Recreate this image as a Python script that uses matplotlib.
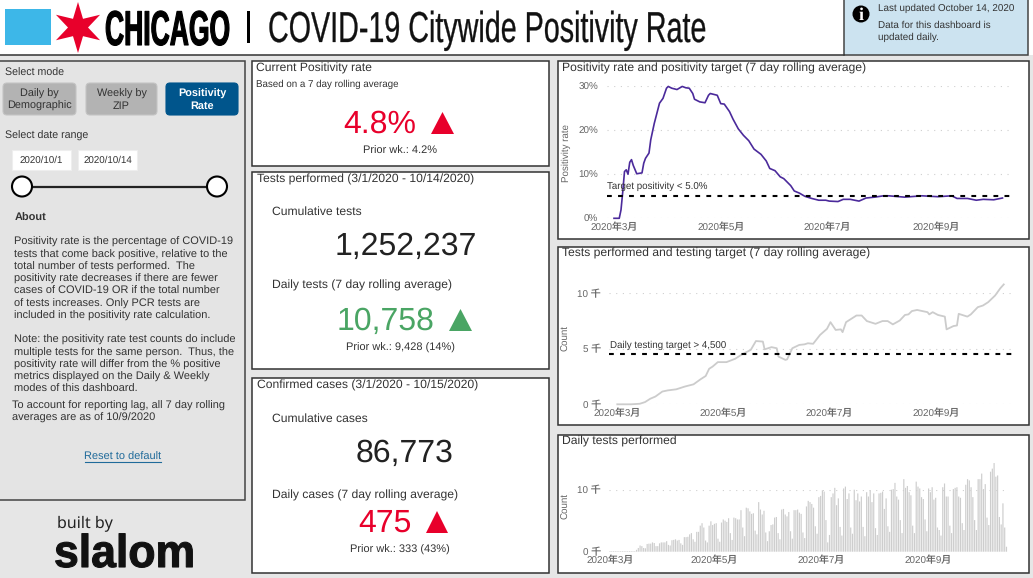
import numpy as np
import matplotlib
matplotlib.use("Agg")
import matplotlib.pyplot as plt
from matplotlib.patches import Rectangle, FancyBboxPatch, Circle, Polygon
from matplotlib.patheffects import AbstractPathEffect
from matplotlib.transforms import Affine2D

plt.rcParams["font.family"] = ["Liberation Sans", "Noto Sans CJK SC", "DejaVu Sans"]
plt.rcParams["text.hinting"] = "no_hinting"

W, H = 1033, 578

# ── Data (days are counted from 2020/3/1) ─────────────────────────────────────
pos_days = [0, 3, 4, 5, 6, 7, 8, 9, 10, 11, 13, 16, 17, 18, 20, 21, 23, 26, 28, 30, 31, 33, 36,
            39, 41, 43, 45, 46, 49, 52, 54, 55, 59, 61, 63, 66, 68, 71, 74, 77, 80, 84, 87, 89,
            92, 95, 97, 101, 103, 106, 109, 113, 117, 121, 123, 128, 131, 135, 140, 144, 149,
            154, 157, 166, 176, 185, 193, 196, 202, 207, 211, 217, 222]
pos_rate = [0, 0, 1.9, 6, 10.6, 11, 10, 12.7, 13.3, 12, 10.1, 10.3, 12.5, 13.6, 14.8, 17.8, 21.5,
            26.1, 27.2, 29.5, 29.9, 29.5, 29.2, 29.9, 29.6, 29.5, 28.3, 27, 26.4, 26.2, 27.9, 28.3,
            27.9, 26, 25.9, 24.2, 22.5, 20.3, 18.8, 17.6, 15.7, 14.5, 13, 11.3, 10.8, 9.4, 9, 7.4,
            6.2, 5.7, 5, 4.5, 4.1, 4.1, 3.9, 3.8, 4.3, 4.3, 3.9, 4.6, 4.8, 5.1, 5.1, 4.8, 5.1, 4.9,
            5.1, 4.5, 4.5, 4.1, 4.3, 4.2, 4.6]
pos_target = 5.0

test_days = [0, 8, 13, 16, 19, 22, 26, 29, 34, 39, 44, 48, 51, 53, 55, 58, 60, 63, 68, 72, 77, 80,
             84, 85, 89, 92, 93, 97, 98, 101, 105, 108, 110, 113, 117, 121, 123, 126, 129, 130,
             132, 135, 138, 141, 144, 149, 153, 156, 159, 163, 166, 168, 170, 173, 179, 180, 182,
             185, 189, 190, 194, 196, 197, 202, 204, 208, 211, 214, 216, 218, 221, 223]
test_avg = [0, 0, 0.05, 0.2, 0.5, 0.7, 1.15, 1.25, 1.35, 1.6, 1.8, 2.25, 2.55, 3.2, 3.4, 3.8, 3.8,
            3.8, 4.1, 4.5, 4.9, 5.7, 5.65, 4.95, 5.15, 5.05, 4.3, 4.0, 4.05, 5.05, 5.35, 5.4, 5.5,
            5.45, 6.25, 6.8, 7.4, 6.7, 6.75, 6.5, 7.4, 7.7, 8.0, 8.0, 7.5, 7.25, 7.5, 7.5, 7.2,
            7.55, 8.05, 8.1, 8.4, 8.5, 8.3, 8.1, 8.3, 8.05, 7.9, 6.75, 7.05, 7.1, 8.15, 7.9, 8.1,
            8.75, 8.9, 9.2, 9.5, 9.8, 10.45, 10.8]
test_target = 4.5

daily_tests = [0.1, 0.1, 0.1, 0.1, 0.1, 0.1, 0.1, 0.1, 0.1, 0.1, 0.1, 0.1, 0.1, 0.1, 0.1,
               0.3, 0.6, 1.0, 0.9, 0.6, 0.55, 1.25, 1.3, 1.3, 1.5, 1.4, 0.9, 0.9, 1.35, 1.5,
               1.5, 1.5, 1.7, 1.1, 1.0, 1.85, 1.9, 2.0, 1.8, 1.9, 1.35, 1.1, 2.35, 2.35, 2.4,
               2.8, 3.0, 2.0, 1.6, 3.2, 3.2, 4.2, 4.6, 3.9, 1.8, 1.5, 4.2, 4.9, 4.3, 4.5,
               4.6, 2.1, 1.6, 4.7, 5.2, 5.0, 4.8, 5.4, 3.0, 1.9, 5.5, 5.4, 5.2, 5.2, 6.7,
               3.9, 2.5, 7.1, 7.0, 6.5, 6.1, 6.2, 3.4, 2.8, 8.0, 6.8, 6.0, 6.6, 3.1, 1.7,
               3.3, 4.3, 4.4, 5.5, 5.6, 3.0, 2.0, 6.8, 6.9, 6.0, 5.7, 6.4, 3.3, 2.1, 6.7,
               6.7, 6.8, 6.3, 6.1, 3.1, 2.2, 7.3, 8.2, 8.0, 7.7, 7.1, 4.1, 2.9, 8.8, 9.0,
               9.9, 9.7, 5.1, 1.5, 2.7, 8.8, 9.4, 10.3, 7.5, 8.6, 4.0, 2.6, 10.2, 10.5, 8.5,
               9.4, 3.9, 2.9, 10.0, 8.3, 9.4, 8.1, 8.9, 4.0, 2.5, 9.6, 8.9, 9.9, 8.0, 9.4,
               3.8, 2.7, 9.4, 9.5, 9.7, 6.9, 8.6, 4.1, 3.2, 10.0, 10.1, 11.1, 8.9, 8.4, 5.1,
               3.0, 11.7, 10.3, 10.6, 9.6, 9.1, 4.2, 3.0, 11.3, 10.5, 10.2, 8.8, 8.5, 5.2,
               3.3, 10.2, 9.6, 10.4, 8.4, 8.7, 3.9, 3.5, 2.6, 10.4, 11.0, 8.9, 8.9, 4.2, 3.0,
               10.1, 10.3, 10.4, 8.9, 8.7, 4.6, 3.5, 10.8, 11.7, 11.5, 10.4, 8.8, 5.1, 3.5,
               11.7, 11.7, 12.6, 10.1, 10.9, 5.5, 4.3, 12.9, 13.4, 14.3, 12.1, 12.3, 5.6, 4.4,
               7.8, 3.9, 0.8]

month_labels = ["2020年3月", "2020年5月", "2020年7月", "2020年9月"]
month_ticks = [0, 61, 122, 184]
bar_month_ticks = [0, 59, 119, 180]

about_lines = ["Positivity rate is the percentage of COVID-19",
               "tests that come back positive, relative to the",
               "total number of tests performed.  The",
               "positivity rate decreases if there are fewer",
               "cases of COVID-19 OR if the total number",
               "of tests increases. Only PCR tests are",
               "included in the positivity rate calculation."]
note_lines = ["Note: the positivity rate test counts do include",
              "multiple tests for the same person.  Thus, the",
              "positivity rate will differ from the % positive",
              "metrics displayed on the Daily & Weekly",
              "modes of this dashboard."]
about_y = [241, 254, 266, 278, 290, 303, 315]
note_y = [339, 352, 364, 376, 388]

RED = "#e8002b"
GREEN = "#4aa564"
DARK = "#333333"
GRAY = "#666666"
BG = "#e6e6e6"


class StretchY(AbstractPathEffect):
    # the logo fonts are condensed and none is installed, so small glyphs get stretched up
    def __init__(self, sy, y0, lw=0.0):
        super().__init__()
        self.sy, self.y0, self.lw = sy, y0, lw

    def draw_path(self, renderer, gc, tpath, affine, rgbFace=None):
        tr = affine + Affine2D().translate(0, -self.y0).scale(1, self.sy).translate(0, self.y0)
        gc0 = renderer.new_gc()
        gc0.copy_properties(gc)
        if self.lw:
            gc0.set_linewidth(self.lw)
            gc0.set_foreground(rgbFace)
        renderer.draw_path(gc0, tpath, tr, rgbFace)
        gc0.restore()


fig = plt.figure(figsize=(W / 100, H / 100), dpi=100, facecolor=BG)
base = fig.add_axes([0, 0, 1, 1])
base.set_xlim(0, W)
base.set_ylim(H, 0)
base.axis("off")


def box(x0, y0, x1, y1, fc="white", ec=DARK, lw=1.1):
    base.add_patch(Rectangle((x0, y0), x1 - x0, y1 - y0, fc=fc, ec=ec, lw=lw))


def txt(x, y, s, size=8.75, color=DARK, ha="left", **kw):
    return base.text(x, y + size * 0.1, s, fontsize=size, color=color, ha=ha, va="center", **kw)


def logo_text(x0, x1, y_base, cap_h, s, color, lw=0.0, **kw):
    # font size from the wanted width, vertical stretch from the wanted cap height
    t = base.text(x0, y_base, s, fontsize=30, color=color, va="baseline", **kw)
    w = t.get_window_extent(fig.canvas.get_renderer()).width
    size = 30 * (x1 - x0) / w
    t.set_fontsize(size)
    t.set_path_effects([StretchY(cap_h / (0.716 * size * 100 / 72), H - y_base, lw)])


def triangle(x0, x1, y0, y1, color):
    base.add_patch(Polygon([(x0, y1), (x1, y1), ((x0 + x1) / 2, y0)], fc=color, ec="none"))


# ── Header ────────────────────────────────────────────────────────────────────
box(-2, -2, W + 2, 55, fc="white", ec="none", lw=0)
base.plot([0, 844], [55, 55], color=DARK, lw=1.1)
base.add_patch(Rectangle((5, 9), 46, 36, fc="#3db7e8", ec="none"))
star_a = np.arange(12) * np.pi / 6
star_r = np.where(np.arange(12) % 2 == 0, 25.5, 10)
base.add_patch(Polygon(np.c_[78 + star_r * np.sin(star_a), 27.5 - star_r * np.cos(star_a)],
                       fc=RED, ec="none"))
logo_text(105, 230, 45, 35, "CHICAGO", "black", lw=0.8, fontweight="bold")
base.add_patch(Rectangle((247, 11), 3, 32, fc="black", ec="none"))
logo_text(268, 706, 42, 31, "COVID-19 Citywide Positivity Rate", "#111111", lw=0.2)

box(844, -2, 1028, 55, fc="#cce3f0", ec="#444444")
base.add_patch(Circle((861, 14), 8.5, fc="black", ec="none"))
txt(861, 14, "i", size=13, color="white", ha="center", family="Liberation Serif", fontweight="bold")
txt(878, 7.5, "Last updated October 14, 2020", size=7.1)
txt(878, 25, "Data for this dashboard is", size=7.1)
txt(878, 37, "updated daily.", size=7.1)

# ── Left panel ────────────────────────────────────────────────────────────────
box(-2, 61, 244.5, 500, fc="#e4e4e4", ec="#444444")
txt(5, 72, "Select mode", size=7.7)
txt(5, 135, "Select date range", size=7.7)

buttons = [(3, 76, "#b3b3b3", ["Daily by", "Demographic"]),
           (86, 157, "#b3b3b3", ["Weekly by", "ZIP"]),
           (166, 238, "#00558c", ["Positivity", "Rate"])]
for x0, x1, col, words in buttons:
    base.add_patch(FancyBboxPatch((x0 + 4, 87), x1 - x0 - 8, 24, boxstyle="round,pad=4",
                                  fc=col, ec="#c4c4c4" if col == "#b3b3b3" else col, lw=0.8))
    is_on = col == "#00558c"
    for y, word in zip([93, 105], words):
        txt((x0 + x1) / 2, y, word, size=7.8, ha="center", color="white" if is_on else DARK,
            fontweight="bold" if is_on else "normal")

for x0, label in [(12, "2020/10/1"), (78, "2020/10/14")]:
    base.add_patch(Rectangle((x0, 150), 59, 20, fc="white", ec="#eeeeee", lw=0.8))
    txt(x0 + 29.5, 159.5, label, size=7, ha="center")
base.plot([22, 217], [186.5, 186.5], color="#222222", lw=1.6)
for cx in [22, 217]:
    base.add_patch(Circle((cx, 186.5), 10, fc="white", ec="black", lw=1.5, zorder=3))

txt(14.5, 217, "About", size=7.9, fontweight="bold")
for y, line in zip(about_y, about_lines):
    txt(14.5, y, line, size=7.9)
for y, line in zip(note_y, note_lines):
    txt(14.5, y, line, size=7.9)
txt(11.5, 405, "To account for reporting lag, all 7 day rolling", size=7.9)
txt(11.5, 417, "averages are as of 10/9/2020", size=7.9)
txt(123, 456, "Reset to default", size=7.9, ha="center", color="#1f6a9a")
base.plot([85, 161], [461.5, 461.5], color="#1f6a9a", lw=0.8)

txt(57, 522, "built by", size=11.5, color="#222222", family="Noto Sans")
logo_text(54, 195, 567, 33, "slalom", "#111111", lw=0.8, fontweight="bold")

# ── KPI cards ─────────────────────────────────────────────────────────────────
box(252, 61, 548.5, 165.5)
box(252, 172, 548.5, 368.5)
box(252, 378, 548.5, 573)

txt(256.5, 67.5, "Current Positivity rate")
txt(256.5, 84, "Based on a 7 day rolling average", size=7)
txt(343, 122, "4.8%", size=23, color=RED)
triangle(431, 454, 112, 134, RED)
txt(400, 150, "Prior wk.: 4.2%", size=7.9, ha="center")

txt(257, 178.5, "Tests performed (3/1/2020 - 10/14/2020)")
txt(272.5, 210.5, "Cumulative tests")
txt(406, 244, "1,252,237", size=23, ha="center", color="#222222")
txt(272.5, 285, "Daily tests (7 day rolling average)")
txt(337, 319, "10,758", size=23, color=GREEN)
triangle(449, 472, 309, 331, GREEN)
txt(400, 347.5, "Prior wk.: 9,428 (14%)", size=7.9, ha="center")

txt(257, 385, "Confirmed cases (3/1/2020 - 10/15/2020)")
txt(272.5, 418, "Cumulative cases")
txt(405, 451, "86,773", size=23, ha="center", color="#222222")
txt(272.5, 495, "Daily cases (7 day rolling average)")
txt(358, 521, "475", size=23, color=RED)
triangle(426, 448, 511, 533, RED)
txt(400, 549, "Prior wk.: 333 (43%)", size=7.9, ha="center")

# ── Chart cards ───────────────────────────────────────────────────────────────
box(557.5, 61, 1029, 239)
box(557.5, 246.5, 1029, 425)
box(557.5, 434.5, 1029, 573)
txt(562, 67.5, "Positivity rate and positivity target (7 day rolling average)")
txt(562, 253, "Tests performed and testing target (7 day rolling average)")
txt(562, 441, "Daily tests performed")
txt(566, 152, "Positivity rate", size=7, color=GRAY, rotation=90, ha="center")
txt(566, 337, "Count", size=7, color=GRAY, rotation=90, ha="center")
txt(566, 505, "Count", size=7, color=GRAY, rotation=90, ha="center")


def chart(x0, x1, y_top, y_bot, day0_px, px_per_day, ymax):
    ax = fig.add_axes([x0 / W, 1 - y_bot / H, (x1 - x0) / W, (y_bot - y_top) / H])
    ax.patch.set_alpha(0)
    ax.set_xlim((x0 - day0_px) / px_per_day, (x1 - day0_px) / px_per_day)
    ax.set_ylim(0, ymax)
    for s in ax.spines.values():
        s.set_visible(False)
    ax.grid(True, axis="y", color="#cfcfcf", lw=0.8, linestyle=(0, (1, 5)))
    ax.set_axisbelow(True)
    ax.tick_params(length=0, labelsize=7.1, labelcolor=GRAY, pad=3)
    ax.tick_params(axis="y", pad=6)
    return ax


# 1. Positivity rate
ax1 = chart(606.7, 1010, 86, 218.3, 614, 1.75, 30)
ax1.plot(pos_days, pos_rate, color="#4b2a9b", lw=1.2, clip_on=False)
ax1.axhline(pos_target, color="black", lw=1.5, linestyle=(0, (2.3, 3)))
ax1.set_yticks([0, 10, 20, 30], ["0%", "10%", "20%", "30%"])
ax1.set_xticks(month_ticks, month_labels)
ax1.text(-4, pos_target + 2.25, "Target positivity < 5.0%", fontsize=7, color=DARK, va="center")

# 2. Tests rolling average
ax2 = chart(609, 1011.7, 293.3, 404.3, 617.3, 1.733, 10)
ax2.plot(test_days, test_avg, color="#cccccc", lw=1.3, clip_on=False)
ax2.axhline(test_target, color="black", lw=1.5, linestyle=(0, (2.3, 3)))
ax2.set_yticks([0, 5, 10], ["0 千", "5 千", "10 千"])
ax2.set_xticks(month_ticks, month_labels)
ax2.text(-4.5, test_target + 0.85, "Daily testing target > 4,500", fontsize=7, color=DARK, va="center")

# 3. Daily tests
ax3 = chart(609, 1005, 489.7, 551.7, 610, 1.77, 10)
ax3.bar(np.arange(len(daily_tests)), daily_tests, width=0.66, color="#cdcdcd", clip_on=False, snap=False)
ax3.set_yticks([0, 10], ["0 千", "10 千"])
ax3.set_xticks(bar_month_ticks, month_labels)

fig.savefig("out.png", dpi=100, facecolor=BG)
